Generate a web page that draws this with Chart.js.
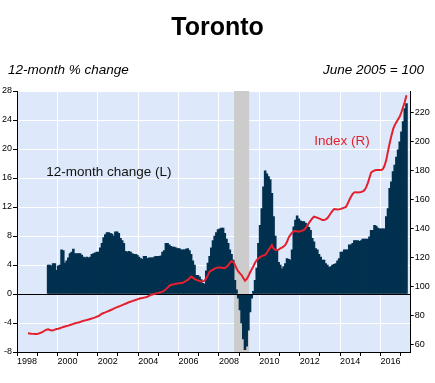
<!DOCTYPE html>
<html><head><meta charset="utf-8">
<script src="https://cdn.jsdelivr.net/npm/chart.js@4.4.1/dist/chart.umd.min.js"></script>
<style>html,body{margin:0;padding:0;background:#fff}canvas{display:block}</style>
</head><body>
<canvas id="c" width="435" height="383"></canvas>
<script>
// ---- texts ----
const chartTitle = 'Toronto';
const leftSubtitle = '12-month % change';
const rightSubtitle = 'June 2005 = 100';
const changeLabel = '12-month change (L)';
const indexLabel = 'Index (R)';

// ---- axes ----
const xMin = 1998, xMax = 2017.5;
const yearLabels = ['1998','2000','2002','2004','2006','2008','2010','2012','2014','2016'];
const leftTicks = [-8,-4,0,4,8,12,16,20,24,28];
const rightTicks = [60,80,100,120,140,160,180,200,220];
const recession = [2008.75, 2009.5];

// ---- series (monthly) ----
const changeStart = [1999, 7];   // July 1999
const change12m = [
 4.0,4.0,3.9,4.2,4.2,3.3,3.9,4.0,6.1,6.0,4.3,4.6,
 5.0,5.6,5.8,6.2,5.6,5.6,5.6,5.6,5.4,5.1,5.0,5.1,
 5.0,5.1,5.5,5.6,5.7,5.8,5.8,6.4,7.0,7.8,8.2,8.5,
 8.5,8.4,8.3,8.0,8.6,8.6,8.4,7.7,7.4,7.0,5.9,5.8,
 5.9,5.8,5.6,5.5,5.5,5.4,5.1,4.9,4.8,5.2,5.2,4.9,
 5.0,5.0,5.0,5.1,5.2,5.2,5.2,5.3,5.8,6.0,7.0,7.0,
 6.8,6.6,6.5,6.5,6.4,6.3,6.3,6.1,6.1,6.1,6.2,6.3,
 6.0,5.5,4.6,4.0,2.6,2.6,2.4,2.0,1.5,1.4,3.2,4.3,
 5.2,6.4,7.4,8.0,8.5,8.9,9.0,9.1,9.1,8.4,7.6,7.0,
 6.1,5.5,4.7,1.9,0.6,-0.6,-2.2,-4.0,-6.2,-7.7,-7.2,-5.0,
 -2.5,-0.6,0.4,1.9,3.6,7.0,9.5,11.8,14.8,17.0,16.6,16.2,
 15.8,13.9,10.7,8.0,6.1,4.4,4.0,3.5,3.8,4.2,4.9,4.8,
 4.7,6.1,9.3,10.2,10.8,10.4,10.1,10.0,10.0,9.8,9.5,9.2,
 8.8,7.7,7.2,6.3,6.1,5.5,5.1,4.7,4.7,4.2,4.0,3.7,
 3.8,4.0,4.1,4.2,4.6,4.9,5.8,5.8,6.1,6.1,6.1,6.8,
 6.8,7.0,7.4,7.4,7.4,7.3,7.4,7.6,7.6,7.6,7.6,7.9,
 8.8,8.8,9.5,9.4,9.1,9.0,9.0,9.0,9.0,10.7,11.8,14.6,
 15.5,16.9,17.8,18.9,19.9,21.0,22.4,23.8,25.6,26.3
];
const indexStart = [1998, 7];    // July 1998
const indexValues = [
 67.9,67.8,67.6,67.5,67.4,67.4,67.6,68.0,68.4,69.0,69.8,70.4,
 70.6,70.2,69.8,70.0,70.4,70.8,71.0,71.4,71.8,72.2,72.6,72.9,
 73.2,73.6,74.0,74.4,74.8,75.1,75.4,75.7,76.1,76.5,76.8,77.1,
 77.4,77.8,78.1,78.5,78.9,79.4,79.8,80.6,81.4,81.9,82.3,82.8,
 83.3,83.8,84.3,84.9,85.4,85.9,86.4,86.8,87.3,87.8,88.3,88.8,
 89.3,89.7,90.1,90.5,90.9,91.3,91.7,92.0,92.2,92.5,92.7,93.1,
 93.7,94.3,94.7,95.0,95.3,95.6,95.9,96.3,96.6,97.3,98.3,99.4,
 100.6,101.2,101.6,101.8,102.0,102.2,102.4,102.6,102.8,103.3,104.0,104.7,
 105.8,106.9,106.4,105.4,104.8,104.4,104.0,103.6,103.7,104.2,105.8,108.0,
 110.4,111.2,111.8,112.5,113.0,113.3,113.3,113.1,112.9,113.0,113.6,114.8,
 116.4,117.6,117.2,115.2,112.6,110.6,109.2,108.1,106.0,104.2,105.3,107.2,
 109.8,112.0,114.2,116.5,118.4,119.5,120.4,121.1,121.6,121.9,123.4,125.3,
 127.0,128.8,126.3,125.5,125.3,125.6,126.4,127.0,127.8,128.8,131.0,134.0,
 135.8,137.3,138.3,138.5,138.2,138.0,138.3,138.7,139.1,140.3,142.2,143.9,
 145.6,147.2,148.3,148.0,147.6,147.2,146.6,146.1,146.0,146.5,147.3,149.0,
 150.7,152.3,153.6,153.5,153.3,153.4,153.7,154.1,154.6,155.0,157.2,159.8,
 162.0,164.0,165.1,165.2,165.0,165.1,165.4,165.8,166.6,168.5,171.5,175.2,
 178.9,179.6,180.2,180.5,180.5,180.6,180.5,181.2,183.6,187.5,193.5,199.0,
 204.0,208.5,211.5,213.5,215.5,217.3,220.5,224.0,227.6,232.0
];

// ---- build points (month centre as decimal year) ----
function toPoints(start, values) {
  return values.map((v, i) => ({ x: start[0] + (start[1] - 1 + i + 0.5) / 12, y: v }));
}

const FONT = '"Liberation Sans", Arial, Helvetica, sans-serif';
const BG = '#dde9fa';
const NAVY = '#02304f';
const RED = '#e5202e';

const decor = {
  id: 'decor',
  beforeDraw(chart) {
    const { ctx, chartArea: a } = chart;
    ctx.save();
    ctx.fillStyle = BG;
    ctx.fillRect(a.left, a.top, a.right - a.left, a.bottom - a.top);
    ctx.restore();
  },
  beforeDatasetsDraw(chart) {
    const { ctx, chartArea: a, scales } = chart;
    const x0 = scales.x.getPixelForValue(recession[0]);
    const x1 = scales.x.getPixelForValue(recession[1]);
    ctx.save();
    ctx.fillStyle = '#cccccc';
    ctx.fillRect(x0, a.top, x1 - x0, a.bottom - a.top);
    ctx.restore();
  },
  afterDatasetDraw(chart, args) {
    if (args.meta.type !== 'bar') return;
    const { ctx, chartArea: a, scales } = chart;
    const y = Math.round(scales.y.getPixelForValue(0)) + 0.5;
    ctx.save();
    ctx.strokeStyle = '#000';
    ctx.lineWidth = 1;
    ctx.beginPath();
    ctx.moveTo(a.left, y);
    ctx.lineTo(a.right, y);
    ctx.stroke();
    ctx.restore();
  },
  afterDraw(chart) {
    const { ctx, scales } = chart;
    ctx.save();
    ctx.textBaseline = 'middle';
    ctx.fillStyle = '#000';
    ctx.font = 'bold 25px ' + FONT;
    ctx.textAlign = 'center';
    ctx.fillText(chartTitle, 217.5, 28);
    ctx.font = 'italic 13.5px ' + FONT;
    ctx.textAlign = 'left';
    ctx.fillText(leftSubtitle, 8, 70);
    ctx.textAlign = 'right';
    ctx.fillText(rightSubtitle, 424, 70);
    ctx.font = '13.5px ' + FONT;
    ctx.textAlign = 'left';
    ctx.fillStyle = '#111';
    ctx.fillText(changeLabel, scales.x.getPixelForValue(1999.45), scales.y.getPixelForValue(16.8));
    ctx.fillStyle = RED;
    ctx.fillText(indexLabel, scales.x.getPixelForValue(2012.72), scales.y.getPixelForValue(21.1));
    ctx.restore();
  }
};

const tickFont = { family: FONT, size: 9 };

new Chart(document.getElementById('c'), {
  type: 'bar',
  data: {
    datasets: [
      {
        type: 'line', label: indexLabel, data: toPoints(indexStart, indexValues),
        yAxisID: 'y2', xAxisID: 'x', borderColor: RED, borderWidth: 2,
        pointRadius: 0, tension: 0, fill: false, order: 0
      },
      {
        type: 'bar', label: changeLabel, data: toPoints(changeStart, change12m),
        yAxisID: 'y', xAxisID: 'x', backgroundColor: NAVY,
        borderColor: NAVY, borderWidth: 0, grouped: false,
        barThickness: 2.2, inflateAmount: 0.2, order: 1
      }
    ]
  },
  options: {
    responsive: false, animation: false,
    layout: { padding: { top: 91, left: 0, right: 0, bottom: 0 } },
    plugins: { legend: { display: false }, tooltip: { enabled: false }, title: { display: false } },
    scales: {
      x: {
        type: 'linear', min: xMin, max: xMax, offset: false,
        afterBuildTicks(s) {
          const t = [];
          for (let y = 1998; y <= 2017; y++) {
            t.push({ value: y });
            if (yearLabels.includes(String(y))) t.push({ value: y + 0.5 });
          }
          s.ticks = t;
        },
        ticks: {
          autoSkip: false, maxRotation: 0, minRotation: 0, font: tickFont, color: '#000', padding: 0,
          callback(v) {
            if (Math.abs(v % 1 - 0.5) > 1e-6) return '';
            const lab = String(Math.floor(v));
            return yearLabels.includes(lab) ? lab : '';
          }
        },
        grid: {
          offset: false, lineWidth: 1, tickLength: 4,
          color(ctx) {
            const v = ctx.tick ? ctx.tick.value : 0;
            return (Number.isInteger(v) && v % 2 === 0 && v > xMin) ? '#ffffff' : 'rgba(0,0,0,0)';
          },
          tickColor(ctx) {
            const v = ctx.tick ? ctx.tick.value : 0;
            return Number.isInteger(v) ? '#000' : 'rgba(0,0,0,0)';
          }
        },
        border: { color: '#000', width: 1 },
        afterFit(s) { s.height = 31; }
      },
      y: {
        position: 'left', min: leftTicks[0], max: leftTicks[leftTicks.length - 1],
        afterBuildTicks(s) { s.ticks = leftTicks.map(v => ({ value: v })); },
        ticks: { font: tickFont, color: '#000', padding: 1 },
        grid: {
          lineWidth: 1, tickLength: 4, tickColor: '#000',
          color(ctx) { return (ctx.tick && ctx.tick.value === 0) ? 'rgba(0,0,0,0)' : '#ffffff'; }
        },
        border: { color: '#000', width: 1 },
        afterFit(s) { s.width = 17; }
      },
      y2: {
        position: 'right', min: 55, max: 235,
        afterBuildTicks(s) { s.ticks = rightTicks.map(v => ({ value: v })); },
        ticks: { font: tickFont, color: '#000', padding: 1 },
        grid: { drawOnChartArea: false, tickLength: 3, tickColor: '#000' },
        border: { color: '#000', width: 1 },
        afterFit(s) { s.width = 24.3; }
      }
    }
  },
  plugins: [decor]
});
</script>
</body></html>
